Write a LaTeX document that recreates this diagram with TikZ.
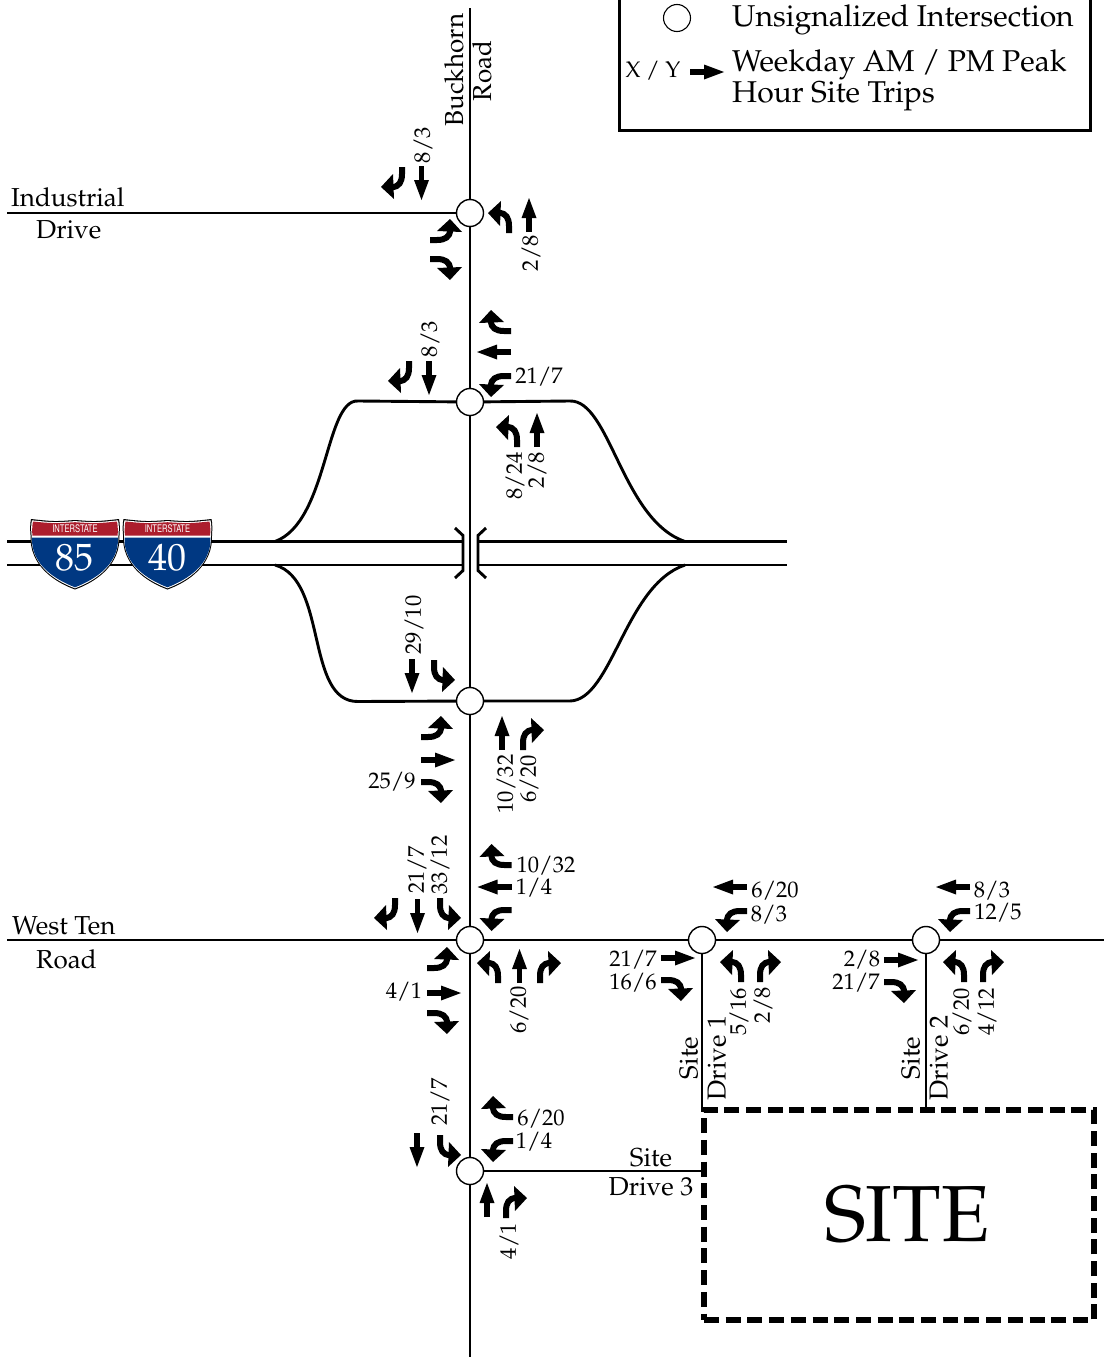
\documentclass[tikz,border=0pt]{standalone}
\usepackage[T1]{fontenc}
\usepackage{mathpazo}
\newcounter{labc}
\tikzset{
  road/.style={line width=2.9pt},
  lab/.style={inner sep=0pt,font=\fontsize{22.5}{24}\selectfont},
  rlab/.style={lab,rotate=90},
  big/.style={inner sep=0pt,font=\fontsize{30.1}{31}\selectfont,anchor=west},
  isect/.style={circle,draw=black,fill=white,line width=1.4pt,minimum size=27pt,inner sep=0pt},
  turnL/.pic={
    \draw[line width=6pt] (0,0) -- (0,-7) .. controls (0,-15) and (-3,-20) .. (-10,-20);
    \fill (-8,-32) -- (-21,-20) -- (-9,-7) -- cycle;
  },
  turnR/.pic={
    \begin{scope}[xscale=-1]
    \draw[line width=6pt] (0,0) -- (0,-7) .. controls (0,-15) and (-3,-20) .. (-10,-20);
    \fill (-8,-32) -- (-21,-20) -- (-9,-7) -- cycle;
    \end{scope}
  },
  straight/.pic={
    \draw[line width=5.5pt] (0,0) -- (0,-16);
    \fill (-7.5,-14) -- (0,-34) -- (7.5,-14) -- cycle;
  },
  shieldpic/.pic={
    \fill[black] (-44,-35.5) .. controls (-22,-33) and (-20,-33) .. (0,-34.5) .. controls (20,-33) and (22,-33) .. (44,-35.5)
      .. controls (45,-31) and (45,-25) .. (44.5,-20) .. controls (46,10) and (22,27) .. (0,35) .. controls (-22,27) and (-46,10) .. (-44.5,-20)
      .. controls (-45,-25) and (-45,-31) .. (-44,-35.5) -- cycle;
    \fill[white] (-43,-34.2) .. controls (-22,-32) and (-20,-32) .. (0,-33.4) .. controls (20,-32) and (22,-32) .. (43,-34.2)
      .. controls (44,-31) and (44,-25) .. (43.5,-20) .. controls (45,10) and (21,26) .. (0,33.8) .. controls (-21,26) and (-45,10) .. (-43.5,-20)
      .. controls (-44,-25) and (-44,-31) .. (-43,-34.2) -- cycle;
    \fill[shieldred] (-42,-33) .. controls (-22,-31) and (-20,-31) .. (0,-32.3) .. controls (20,-31) and (22,-31) .. (42,-33)
      .. controls (43,-28) and (43,-22) .. (42.5,-19) -- (-42.5,-19) .. controls (-43,-22) and (-43,-28) .. (-42,-33) -- cycle;
    \fill[shieldblue] (-43,-17) -- (43,-17) .. controls (44,10) and (20,25) .. (0,32.8) .. controls (-20,25) and (-44,10) .. (-43,-17) -- cycle;
  }
}
\definecolor{shieldred}{RGB}{172,30,45}
\definecolor{shieldblue}{RGB}{0,56,130}
\newcommand{\lb}[3]{\stepcounter{labc}\node[lab] (lab\arabic{labc}) at (#1,#2+1) {#3};}
\newcommand{\rl}[3]{\stepcounter{labc}\node[rlab] (lab\arabic{labc}) at (#1,#2) {#3};}
\newcommand{\tl}[3]{\pic[rotate=#3] at (#1,#2) {turnL};}
\newcommand{\tr}[3]{\pic[rotate=#3] at (#1,#2) {turnR};}
\newcommand{\st}[3]{\pic[rotate=#3] at (#1,#2) {straight};}
\newcommand{\nm}{\fontsize{26}{27}\selectfont}
\begin{document}
\begin{tikzpicture}[x=1pt,y=-1pt]
\useasboundingbox (0,0) rectangle (1106,1357);
% named points
\coordinate (nTop) at (470,8);
\coordinate (nBot) at (470,1357);
\coordinate (wInd) at (7,213);
\coordinate (wTen) at (7,940);
\coordinate (eTen) at (1104,940);
% freeway
\draw[road] (7,541.5) -- (463,541.5);
\draw[road] (7,565) -- (463,565);
\draw[road] (478,541.5) -- (787,541.5);
\draw[road] (478,565) -- (787,565);
\draw[road] (455,528) -- (463,535.5) -- (463,570.5) -- (455,578);
\draw[road] (486,528) -- (478,535.5) -- (478,570.5) -- (486,578);
% ramps
\draw[road] (470,402) -- (358,401) .. controls (325,399) and (328,522) .. (275,541.5);
\draw[road] (470,402) -- (570,401) .. controls (610,400) and (622,520) .. (685,541.5);
\draw[road] (470,701) -- (358,701.5) .. controls (305,702) and (328,580) .. (275,565);
\draw[road] (470,701) -- (570,701) .. controls (612,700) and (625,585) .. (685,565);
% intersections
\path (470,213) node[isect] (i1) {};
\path (470,402) node[isect] (i2) {};
\path (470,701) node[isect] (i3) {};
\path (470,940) node[isect] (i4) {};
\path (702,940) node[isect] (i5) {};
\path (926,940) node[isect] (i6) {};
\path (470,1171) node[isect] (i7) {};
% roads
\draw[road] (nTop) -- (i1);
\draw[road] (i1) -- (i2);
\draw[road] (i2) -- (i3);
\draw[road] (i3) -- (i4);
\draw[road] (i4) -- (i7);
\draw[road] (i7) -- (nBot);
\draw[road] (wInd) -- (i1);
\draw[road] (wTen) -- (i4);
\draw[road] (i4) -- (i5);
\draw[road] (i5) -- (i6);
\draw[road] (i6) -- (eTen);
% site
\node[draw=black,line width=6pt,dash pattern=on 15pt off 6.7pt,minimum width=390pt,minimum height=210pt,inner sep=0pt,font=\fontsize{79.5}{80}\selectfont] (site) at (899,1215) {\hspace{16pt}SITE};
\draw[road] (i5) -- (i5 |- site.north);
\draw[road] (i6) -- (i6 |- site.north);
\draw[road] (i7) -- (i7 -| site.west);
% legend
\node[draw=black,line width=3pt,minimum width=471pt,minimum height=140pt,inner sep=0pt] (legend) at (855,60.5) {};
\node[isect,line width=1.1pt] (legc) at (677,18) {};
\node[big] (leg1) at (732,20) {Unsignalized Intersection};
\node[big] (leg2) at (732,64.5) {Weekday AM / PM Peak};
\node[big] (leg3) at (732,96) {Hour Site Trips};
\lb{653}{70}{X / Y}
\st{690}{72}{-90}
% names
\node[lab,anchor=west] (ind1) at (11,197) {\nm Industrial};
\node[lab,anchor=west] (ind2) at (36,230) {\nm Drive};
\node[lab,anchor=west] (ten1) at (12,926) {\nm West Ten};
\node[lab,anchor=west] (ten2) at (36,959) {\nm Road};
\node[rlab] (bh1) at (454,70) {\nm Buckhorn};
\node[rlab] (bh2) at (482,71) {\nm Road};
\node[rlab] (sd1a) at (689,1058) {\nm Site};
\node[rlab] (sd1b) at (717,1058) {\nm Drive 1};
\node[rlab] (sd2a) at (911,1058) {\nm Site};
\node[rlab] (sd2b) at (939,1058) {\nm Drive 2};
\node[lab] (sd3a) at (651,1158) {\nm Site};
\node[lab] (sd3b) at (651,1187) {\nm Drive 3};
% shields
\pic at (75,554.5) {shieldpic};
\pic at (167.5,554.5) {shieldpic};
\node[inner sep=0pt,text=white,xscale=.72,font=\usefont{T1}{phv}{m}{n}\fontsize{10.5}{11}\selectfont] (s1a) at (75,529) {INTERSTATE};
\node[inner sep=0pt,text=white,xscale=.72,font=\usefont{T1}{phv}{m}{n}\fontsize{10.5}{11}\selectfont] (s2a) at (167.5,529) {INTERSTATE};
\node[inner sep=0pt,text=white,font=\fontsize{38}{40}\selectfont] (s1b) at (74,558) {85};
\node[inner sep=0pt,text=white,font=\fontsize{38}{40}\selectfont] (s2b) at (167,558) {40};
% I1
\tr{402}{167}{180} \st{421.5}{166}{180} \rl{423}{145}{8/3}
\tl{430}{240}{-90} \tr{430}{259}{-90}
\tl{509}{233}{0} \st{529}{232}{0} \rl{531}{253}{2/8}
% I2
\tr{409}{361}{180} \st{429}{361}{180} \rl{430}{339}{8/3}
\tr{511}{331}{90} \st{511}{352}{90} \tl{511}{376}{90} \lb{539}{376}{21/7}
\tl{517}{447}{0} \st{537}{447}{0} \rl{515}{476}{8/24} \rl{537}{470}{2/8}
% I3
\st{412}{659}{180} \rl{414}{625}{29/10} \tl{434}{660}{180}
\tl{421}{737}{-90} \st{421}{760}{-90} \tr{421}{782}{-90} \lb{392}{781}{25/9}
\st{502}{750}{0} \tr{523}{750}{0} \rl{506}{784}{10/32} \rl{529}{779}{6/20}
% I4
\tr{395}{898}{180} \st{417.5}{899}{180} \tl{440}{898}{180}
\rl{417}{870}{21/7} \rl{440}{865}{33/12}
\tr{511.5}{865}{90} \st{511.5}{887}{90} \tl{511.5}{910}{90}
\lb{546}{865}{10/32} \lb{534}{887}{1/4}
\tl{427}{968}{-90} \st{427}{993}{-90} \tr{427}{1013}{-90} \lb{404}{991}{4/1}
\tl{498}{983}{0} \st{519.5}{983}{0} \tr{540}{983}{0} \rl{519}{1010}{6/20}
% I5
\st{747}{887}{90} \tl{747}{911}{90} \lb{775}{890}{6/20} \lb{769}{914}{8/3}
\st{661}{958}{-90} \tr{661}{980}{-90} \lb{633}{959}{21/7} \lb{633}{982}{16/6}
\tl{741}{982}{0} \tr{760}{982}{0} \rl{739}{1012}{5/16} \rl{763}{1005}{2/8}
% I6
\st{970}{887}{90} \tl{970}{911}{90} \lb{992}{890}{8/3} \lb{998}{912}{12/5}
\st{884}{960}{-90} \tr{884}{982}{-90} \lb{862}{959}{2/8} \lb{856}{982}{21/7}
\tl{964}{982}{0} \tr{983}{982}{0} \rl{962}{1012}{6/20} \rl{987}{1012}{4/12}
% I7
\st{417}{1133}{180} \tl{440}{1135}{180} \rl{440}{1102}{21/7}
\tr{513}{1117}{90} \tl{513}{1141}{90} \lb{541}{1118}{6/20} \lb{534}{1141}{1/4}
\st{487}{1217}{0} \tr{506}{1218}{0} \rl{509}{1241}{4/1}
\end{tikzpicture}
\end{document}
